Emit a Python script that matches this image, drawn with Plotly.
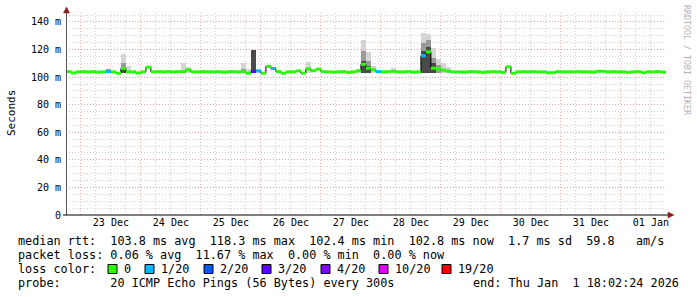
import plotly.graph_objects as go
import pandas as pd

# ---------------- data ----------------
start = pd.Timestamp("2025-12-22 18:00:00")   # first 2-hour step
step_hours = 2
range_start = "2025-12-22 18:02:24"
range_end = "2026-01-01 18:02:24"

median_ms = [
    104.0, 103.0, 103.8, 104.0, 103.8, 104.0, 103.6, 103.8, 104.0, 103.8,
    102.8, 106.3, 103.8, 103.8, 103.0, 103.8, 107.2, 103.8, 104.0, 103.8,
    104.0, 103.8, 104.0, 104.0, 105.3, 103.8, 103.8, 104.0, 103.8, 103.8,
    104.0, 103.6, 103.8, 104.0, 103.8, 104.0, 102.8, 104.0, 104.5, 102.8,
    107.8, 106.3, 104.0, 102.8, 103.8, 103.8, 104.5, 102.8, 106.0, 104.6,
    105.8, 104.0, 103.8, 103.6, 103.8, 104.0, 103.4, 103.8, 104.5, 109.3,
    106.5, 105.3, 104.0, 103.8, 104.0, 104.2, 103.8, 103.8, 104.0, 103.6,
    103.8, 115.5, 118.3, 106.5, 106.0, 105.0, 104.3, 103.8, 103.8, 103.6,
    103.8, 104.0, 103.8, 103.4, 103.8, 104.0, 103.8, 103.4, 107.5, 102.8,
    103.8, 104.0, 103.8, 104.0, 103.8, 103.8, 103.2, 103.2, 104.0, 103.8,
    103.8, 103.8, 104.0, 103.8, 103.8, 103.6, 104.2, 104.2, 103.8, 104.0,
    103.8, 103.8, 103.4, 103.8, 104.0, 103.2, 103.8, 103.8, 104.0, 103.6,
    103.8,
]

# packet loss (pings lost out of 20) at the steps where it was non-zero
loss_steps = [8, 37, 38, 41, 62, 71]
loss_counts = [1, 3, 1, 1, 1, 1]

# smoke (ping spread) tops at the steps where it shows
smoke_steps = [8, 11, 12, 23, 24, 35, 36, 37, 38, 48, 58, 59, 60, 61, 65, 71, 72, 73, 74, 75, 76]
smoke_light = [106, 117, 108, 110, 107, 110, 106, 120, 106, 111, 106, 127, 118, 108, 106.5, 132, 131, 121, 113, 110, 107]
smoke_mid = [106, 110, None, None, None, 106, None, 120, None, None, None, 119, 112, None, None, 125, 127, 114, 109, None, None]
smoke_dark = [None, 107, None, None, None, None, None, 120, None, None, None, 112, 108, None, None, 119, 122, 110, None, None, None]

loss_levels = [0, 1, 2, 3, 4, 10, 19]
loss_labels = ["0", "1/20", "2/20", "3/20", "4/20", "10/20", "19/20"]
loss_colors = ["#26ff00", "#00b8ff", "#0059ff", "#5e00ff", "#7e00ff", "#dd00ff", "#ff0000"]

y_tickvals = [0, 20, 40, 60, 80, 100, 120, 140]
y_ticktext = ["0", "20 m", "40 m", "60 m", "80 m", "100 m", "120 m", "140 m"]

legend_lines = [
    "median rtt:  103.8 ms avg  118.3 ms max  102.4 ms min  102.8 ms now  1.7 ms sd  59.8   am/s",
    "packet loss: 0.06 % avg  11.67 % max  0.00 % min  0.00 % now",
]
probe_text = "probe:       20 ICMP Echo Pings (56 Bytes) every 300s"
end_text = "end: Thu Jan  1 18:02:24 2026"

# ---------------- geometry helpers ----------------
W, H = 697, 297
L, R, T, B = 66, 31, 13, 82
PW, PH = W - L - R, H - T - B
def px(x):
    return (x - L) / PW
def py(y):
    return (H - B - y) / PH

MONO = "DejaVu Sans Mono"
step = pd.Timedelta(hours=step_hours)
times = [start + i * step for i in range(len(median_ms))]

loss_full = [0] * len(median_ms)
for s, c in zip(loss_steps, loss_counts):
    loss_full[s] = c

def level_of(c):
    for lv in loss_levels:
        if c <= lv:
            return lv
    return loss_levels[-1]

fig = go.Figure()

# smoke bars
for tops, col in [(smoke_light, "#d4d4d4"), (smoke_mid, "#9a9a9a"), (smoke_dark, "#4a4a4a")]:
    xs, hs = [], []
    for s, t in zip(smoke_steps, tops):
        if t is None:
            continue
        xs.append(times[s] + step / 2)
        hs.append(t - 103)
    fig.add_trace(go.Bar(x=xs, y=hs, base=103, width=step.total_seconds() * 1000,
                         marker=dict(color=col, line=dict(width=0)), showlegend=False,
                         hoverinfo="skip"))

# black step outline
fig.add_trace(go.Scatter(x=times + [times[-1] + step], y=median_ms + [median_ms[-1]],
                         mode="lines", line=dict(color="black", width=1, shape="hv"),
                         showlegend=False, hoverinfo="skip"))

# loss-coloured median segments
for lv, col in zip(loss_levels, loss_colors):
    xs, ys = [], []
    for i, v in enumerate(median_ms):
        if level_of(loss_full[i]) == lv:
            xs += [times[i], times[i] + step, None]
            ys += [v, v, None]
    if xs:
        fig.add_trace(go.Scatter(x=xs, y=ys, mode="lines", line=dict(color=col, width=3),
                                 showlegend=False, hoverinfo="skip"))

dot = "1px,2px"
MAJ = "rgba(230,130,130,0.6)"
MIN = "#d2d2d2"
fig.update_layout(
    width=W, height=H, margin=dict(l=L, r=R, t=T, b=B),
    paper_bgcolor="white", plot_bgcolor="white",
    barmode="overlay", bargap=0, showlegend=False,
    font=dict(family=MONO, size=10, color="#000"),
    xaxis=dict(type="date", range=[range_start, range_end],
               tick0="2025-12-23", dtick=86400000, ticklabelmode="period",
               tickformat="%d %b", ticks="", showline=False, zeroline=False,
               showgrid=True, gridcolor=MAJ, griddash=dot, gridwidth=1,
               minor=dict(dtick=21600000, showgrid=True, gridcolor=MIN, griddash=dot, gridwidth=1),
               tickfont=dict(family=MONO, size=10, color="#000")),
    yaxis=dict(range=[0, 146.5], tickvals=y_tickvals, ticktext=y_ticktext, ticks="",
               showline=False, zeroline=False,
               showgrid=True, gridcolor=MAJ, griddash=dot, gridwidth=1,
               minor=dict(dtick=5, showgrid=True, gridcolor=MIN, griddash=dot, gridwidth=1),
               tickfont=dict(family=MONO, size=10, color="#000"), ticklabelstandoff=4),
)

shapes = []
# axis lines
shapes.append(dict(type="line", xref="paper", yref="paper", x0=px(66.5), x1=px(66.5), y0=py(215), y1=py(11),
                   line=dict(color="#555555", width=1)))
shapes.append(dict(type="line", xref="paper", yref="paper", x0=px(63), x1=px(670), y0=py(215), y1=py(215),
                   line=dict(color="#000000", width=1)))
# arrows
shapes.append(dict(type="path", xref="paper", yref="paper",
                   path=f"M {px(63.5)} {py(13)} L {px(69.5)} {py(13)} L {px(66.5)} {py(7)} Z",
                   fillcolor="#8b1a1a", line=dict(color="#8b1a1a", width=0.5)))
shapes.append(dict(type="path", xref="paper", yref="paper",
                   path=f"M {px(668)} {py(212)} L {px(668)} {py(218)} L {px(674)} {py(215)} Z",
                   fillcolor="#8b1a1a", line=dict(color="#8b1a1a", width=0.5)))

annotations = []
# y title
annotations.append(dict(text="Seconds", xref="paper", yref="paper", x=px(11), y=py(113),
                        textangle=-90, showarrow=False, xanchor="center", yanchor="middle",
                        font=dict(family=MONO, size=11, color="#000")))
# watermark
annotations.append(dict(text="RRDTOOL / TOBI OETIKER", xref="paper", yref="paper", x=px(687), y=py(60),
                        textangle=90, showarrow=False, xanchor="center", yanchor="middle",
                        font=dict(family=MONO, size=8.3, color="#b4b4b4")))
LEG = 11.8
for k, line in enumerate(legend_lines):
    annotations.append(dict(text=line, xref="paper", yref="paper", x=px(16), y=py(241 + 14 * k),
                            showarrow=False, xanchor="left", yanchor="middle",
                            font=dict(family=MONO, size=LEG, color="#000")))
annotations.append(dict(text="loss color:", xref="paper", yref="paper", x=px(16), y=py(269),
                        showarrow=False, xanchor="left", yanchor="middle",
                        font=dict(family=MONO, size=LEG, color="#000")))
box_x = [108, 145, 204, 262, 321, 379, 442]
for bx, lab, col in zip(box_x, loss_labels, loss_colors):
    shapes.append(dict(type="rect", xref="paper", yref="paper", x0=px(bx), x1=px(bx + 9),
                       y0=py(273.5), y1=py(264.5), fillcolor=col, line=dict(color="black", width=1)))
    annotations.append(dict(text=lab, xref="paper", yref="paper", x=px(bx + 14), y=py(269),
                            showarrow=False, xanchor="left", yanchor="middle",
                            font=dict(family=MONO, size=LEG, color="#000")))
annotations.append(dict(text=probe_text, xref="paper", yref="paper", x=px(16), y=py(283),
                        showarrow=False, xanchor="left", yanchor="middle",
                        font=dict(family=MONO, size=LEG, color="#000")))
annotations.append(dict(text=end_text, xref="paper", yref="paper", x=px(681), y=py(283),
                        showarrow=False, xanchor="right", yanchor="middle",
                        font=dict(family=MONO, size=LEG, color="#000")))

fig.update_layout(shapes=shapes, annotations=annotations)
fig.write_html("out.html")
